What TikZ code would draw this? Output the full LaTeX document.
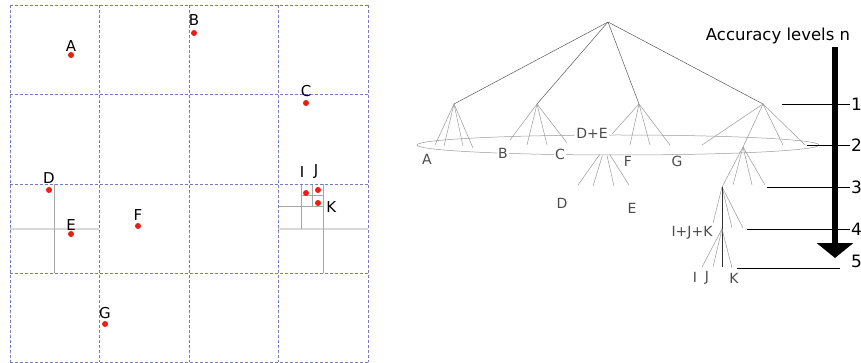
\documentclass[tikz,border=0pt]{standalone}
\usepackage{fontspec}
\setmainfont{DejaVu Sans}
\usetikzlibrary{positioning,arrows.meta}
\definecolor{gridblue}{RGB}{120,120,195}
\definecolor{dotred}{RGB}{235,30,20}

\begin{document}
\begin{tikzpicture}[
    x=1pt, y=-1pt,
    every node/.style={font=\fontsize{15}{17}\selectfont, inner sep=1pt},
    cellgrid/.style={draw=gridblue, line width=0.6pt, dash pattern=on 3pt off 2pt},
    subgrid/.style={draw=black!35, line width=0.6pt},
    midline/.style={draw=black!15, line width=1.6pt},
    dot/.style={circle, fill=dotred, minimum size=6pt, inner sep=0pt},
    branch/.style={draw=black!65, line width=0.5pt},
    twig/.style={draw=black!40, line width=0.5pt},
    treelabel/.style={font=\fontsize{14}{16}\selectfont, text=black!70, fill=white, inner sep=1pt},
    levelline/.style={draw=black, line width=0.7pt},
    levelnum/.style={font=\fontsize{17}{19}\selectfont, anchor=west, inner sep=0pt},
    axis/.style={line width=6pt, -{Triangle[width=36pt, length=15pt]}}
]
\useasboundingbox (0,0) rectangle (861,363);

%% ---- Left: cell subdivisions ----
\draw[midline] (10,229) -- (99,229);
\draw[subgrid] (54,184) -- (54,273);
\draw[midline] (278,229) -- (368,229);
\draw[subgrid] (323,184) -- (323,273);
\draw[subgrid] (278,206) -- (323,206);
\draw[subgrid] (301,184) -- (301,229);
\draw[subgrid] (312,184) -- (312,206);
\draw[subgrid] (301,195) -- (323,195);

%% ---- Left: coarse grid ----
\foreach \v in {10,99,189,278,368}
    \draw[cellgrid] (\v,5) -- (\v,362);
\foreach \h in {5,94,184,273,362}
    \draw[cellgrid] (10,\h) -- (368,\h);

%% ---- Left: points ----
\node[dot] (dA) at (71,55) {};
\node[dot] (dB) at (194,33) {};
\node[dot] (dC) at (306,103) {};
\node[dot] (dD) at (49,190) {};
\node[dot] (dE) at (71,234) {};
\node[dot] (dF) at (138,226) {};
\node[dot] (dG) at (105,324) {};
\node[dot] (dI) at (306,193) {};
\node[dot] (dJ) at (318,190) {};
\node[dot] (dK) at (318,203) {};

\node[above=-1pt of dA] (lA) {A};
\node[above=3pt of dB] (lB) {B};
\node[above=2pt of dC] (lC) {C};
\node[above=2pt of dD] (lD) {D};
\node[above=-1pt of dE] (lE) {E};
\node[above=1pt of dF] (lF) {F};
\node[above=1pt of dG] (lG) {G};
\node (lI) at (302,172) {I};
\node (lJ) at (316,172) {J};
\node[right=4pt of dK, yshift=-4pt] (lK) {K};

%% ---- Right: tree nodes ----
\coordinate (root) at (608,22);
\coordinate (t1) at (454,104);
\coordinate (t2) at (537,104);
\coordinate (t3) at (639,104);
\coordinate (t4) at (763,104);
\coordinate (t5) at (743,147);
\coordinate (t6) at (722,187);
\coordinate (t7) at (722,229);
\coordinate (de) at (605,147);
\coordinate (ring) at (618,145);

%% ---- Level-2 ring ----
\draw[twig] (ring) ellipse [x radius=201pt, y radius=10pt];

%% ---- Root branches ----
\foreach \n in {t1,t2,t3,t4}
    \draw[branch] (root) -- (\n);

%% ---- Fans ----
\foreach \x/\y [count=\i] in {435/145,444/146,463/146,473/148} {
    \coordinate (a\i) at (\x,\y);
    \draw[twig] (t1) -- (a\i);
}
\foreach \x/\y [count=\i] in {510/140,527/145,547/145,567/143} {
    \coordinate (b\i) at (\x,\y);
    \draw[twig] (t2) -- (b\i);
}
\foreach \x/\y [count=\i] in {612/134,630/145,650/145,670/145} {
    \coordinate (c\i) at (\x,\y);
    \draw[twig] (t3) -- (c\i);
}
\foreach \x/\y [count=\i] in {702/145,783/145,805/145} {
    \coordinate (g\i) at (\x,\y);
    \draw[twig] (t4) -- (g\i);
}
\draw[twig] (t4) -- (t5);
\draw[twig] (t5) -- (t6);
\foreach \x/\y [count=\i] in {733/185,752/185,765/185} {
    \coordinate (h\i) at (\x,\y);
    \draw[twig] (t5) -- (h\i);
}
\foreach \x/\y [count=\i] in {578/185,593/186,614/186,629/185} {
    \coordinate (e\i) at (\x,\y);
    \draw[twig, shorten <=9pt] (de) -- (e\i);
}
\foreach \x/\y [count=\i] in {713/223,732/228,743/228} {
    \coordinate (k\i) at (\x,\y);
    \draw[twig] (t6) -- (k\i);
}
\coordinate (t8) at (722,267);
\draw[draw=black!80, line width=0.6pt] (t6) -- (t8);
\foreach \x/\y [count=\i] in {702/267,713/267,732/268} {
    \coordinate (m\i) at (\x,\y);
    \draw[twig] (t7) -- (m\i);
}

%% ---- Tree labels ----
\node[treelabel] (tA) at (427,159) {A};
\node[treelabel] (tB) at (503,153) {B};
\node[treelabel] (tC) at (560,154) {C};
\node[treelabel] (tDE) at (592,133) {D+E};
\node[treelabel] (tF) at (628,161) {F};
\node[treelabel] (tG) at (677,161) {G};
\node[treelabel] (tD) at (562,203) {D};
\node[treelabel] (tE) at (632,208) {E};
\node[treelabel] (tIJK) at (692,233) {I+J+K};
\node[treelabel] (tI) at (695,277) {I};
\node[treelabel] (tJ) at (707,278) {J};
\node[treelabel] (tK) at (734,278) {K};

%% ---- Accuracy levels ----
\node[font=\fontsize{16.5}{19}\selectfont] (acc) at (778,36) {Accuracy levels n};

\coordinate (s1) at (782,104);  \coordinate (e1) at (850,104);
\coordinate (s2) at (807,145);  \coordinate (e2) at (850,145);
\coordinate (s3) at (767,187);  \coordinate (e3) at (850,187);
\coordinate (s4) at (747,229);  \coordinate (e4) at (850,229);
\coordinate (s5) at (737,268);  \coordinate (e5) at (840,268);
\foreach \i in {1,...,5}
    \draw[levelline] (s\i) -- (e\i);

\coordinate (axtop) at (835,47);
\coordinate (axtip) at (835,258);
\draw[axis] (axtop) -- (axtip);

\node[levelnum] (n1) at (851,104) {1};
\node[levelnum] (n2) at (851,145) {2};
\node[levelnum] (n3) at (851,187) {3};
\node[levelnum] (n4) at (851,229) {4};
\node[levelnum] (n5) at (851,261) {5};

\end{tikzpicture}
\end{document}
